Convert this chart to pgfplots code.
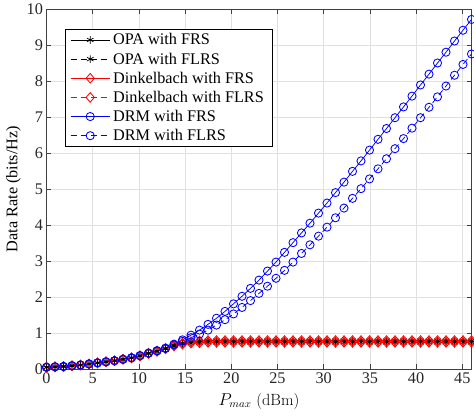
\documentclass[border=0pt]{standalone}
\usepackage{pgfplots}
\pgfplotsset{compat=1.18}
\usepackage{pgfplotstable}
\usepackage{fontspec}
\newfontfamily\tnr{Liberation Serif}

\pgfplotstableread{
x drmfrs drmflrs dfrs dflrs
0.00 0.05 0.05 0.05 0.05
0.92 0.06 0.06 0.06 0.06
1.84 0.07 0.07 0.07 0.07
2.76 0.09 0.09 0.09 0.09
3.68 0.11 0.11 0.11 0.11
4.60 0.14 0.14 0.14 0.14
5.52 0.17 0.17 0.17 0.17
6.44 0.20 0.20 0.20 0.20
7.36 0.23 0.23 0.23 0.23
8.28 0.27 0.27 0.27 0.27
9.20 0.31 0.31 0.31 0.31
10.12 0.37 0.37 0.37 0.36
11.04 0.44 0.44 0.44 0.43
11.96 0.51 0.50 0.50 0.49
12.88 0.58 0.57 0.57 0.56
13.80 0.69 0.67 0.66 0.64
14.72 0.81 0.77 0.72 0.69
15.64 0.94 0.87 0.76 0.72
16.56 1.08 0.97 0.78 0.73
17.48 1.24 1.08 0.79 0.74
18.40 1.41 1.22 0.79 0.74
19.32 1.60 1.37 0.79 0.74
20.24 1.81 1.53 0.79 0.74
21.16 2.02 1.71 0.79 0.74
22.08 2.24 1.90 0.79 0.74
23.00 2.47 2.10 0.79 0.74
23.92 2.72 2.30 0.79 0.74
24.84 2.97 2.52 0.79 0.74
25.76 3.24 2.74 0.79 0.74
26.68 3.51 2.97 0.79 0.74
27.60 3.78 3.21 0.79 0.74
28.52 4.05 3.45 0.79 0.74
29.44 4.33 3.69 0.79 0.74
30.36 4.61 3.94 0.79 0.74
31.28 4.90 4.20 0.79 0.74
32.20 5.19 4.47 0.79 0.74
33.12 5.49 4.74 0.79 0.74
34.04 5.78 5.01 0.79 0.74
34.96 6.08 5.28 0.79 0.74
35.88 6.38 5.56 0.79 0.74
36.80 6.68 5.84 0.79 0.74
37.72 6.98 6.12 0.79 0.74
38.64 7.28 6.40 0.79 0.74
39.56 7.58 6.69 0.79 0.74
40.48 7.89 6.98 0.79 0.74
41.40 8.19 7.27 0.79 0.74
42.32 8.50 7.56 0.79 0.74
43.24 8.80 7.86 0.79 0.74
44.16 9.11 8.16 0.79 0.74
45.08 9.41 8.46 0.79 0.74
46.00 9.71 8.75 0.79 0.74
}\datatab

\begin{document}
\begin{tikzpicture}
\begin{axis}[
  scale only axis,
  width=425bp, height=360bp,
  xmin=0, xmax=46, ymin=0, ymax=10,
  xtick={0,5,...,45}, ytick={0,1,...,10},
  grid=major,
  major grid style={black!12, line width=0.5pt},
  axis line style={black!75, line width=0.6pt},
  tick style={black!75, line width=0.6pt},
  major tick length=5bp,
  tick align=inside,
  /pgf/number format/assume math mode=true,
  tick label style={font=\tnr\fontsize{16.3}{19}\selectfont, text=black!85},
  xlabel={$P_{max}$ (dBm)},
  xlabel style={font=\fontsize{16.3}{19}\selectfont, at={(axis description cs:0.5,-0.1005)}, anchor=base},
  ylabel={Data Rate (bits/Hz)},
  ylabel style={font=\tnr\fontsize{16.3}{19}\selectfont, at={(axis description cs:-0.078,0.5)}, anchor=center},
  legend style={font=\tnr\fontsize{16.3}{19}\selectfont, at={(0.0435,0.945)}, anchor=north west,
    draw=black, line width=0.6pt, row sep=2.4bp, inner xsep=5bp, inner ysep=2.5bp,
    nodes={inner xsep=3bp}},
  legend cell align=left,
  legend image code/.code={
    \draw[mark repeat=2,mark phase=2] plot coordinates {(0cm,0cm) (0.69cm,0cm) (1.38cm,0cm)};
  },
  every axis plot/.append style={line width=0.75pt},
]
\addplot[black, mark=asterisk, mark size=3.8pt, mark options={solid}] table[x=x,y=dfrs]{\datatab};
\addlegendentry{OPA with FRS}
\addplot[black, dash pattern=on 6pt off 4pt, mark=asterisk, mark size=3.8pt, mark options={solid}] table[x=x,y=dflrs]{\datatab};
\addlegendentry{OPA with FLRS}
\addplot[red, mark=diamond, mark size=4.8pt, mark options={solid, xscale=1.15, line width=0.85pt}] table[x=x,y=dfrs]{\datatab};
\addlegendentry{Dinkelbach with FRS}
\addplot[red, dash pattern=on 6pt off 4pt, mark=diamond, mark size=4.8pt, mark options={solid, xscale=1.15, line width=0.85pt}] table[x=x,y=dflrs]{\datatab};
\addlegendentry{Dinkelbach with FLRS}
\addplot[blue, mark=o, mark size=4.1pt, mark options={solid, line width=0.85pt}] table[x=x,y=drmfrs]{\datatab};
\addlegendentry{DRM with FRS}
\addplot[blue, dash pattern=on 6pt off 4pt, mark=o, mark size=4.1pt, mark options={solid, line width=0.85pt}] table[x=x,y=drmflrs]{\datatab};
\addlegendentry{DRM with FLRS}
\end{axis}
\pgfresetboundingbox
\path (current axis.south west) ++(-46.5bp,-47bp) coordinate (bbA);
\path (current axis.north east) ++(2.5bp,9bp) coordinate (bbB);
\useasboundingbox (bbA) rectangle (bbB);
\end{tikzpicture}
\end{document}
